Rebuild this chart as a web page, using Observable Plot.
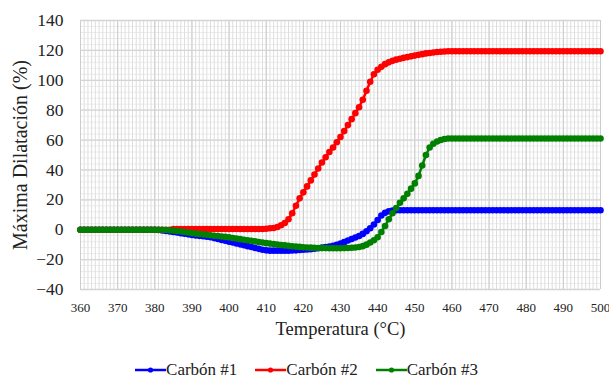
<!DOCTYPE html>
<html><head><meta charset="utf-8">
<script src="https://cdn.jsdelivr.net/npm/d3@7"></script>
<script src="https://cdn.jsdelivr.net/npm/@observablehq/plot@0.6"></script>
<style>
body{margin:0;background:#fff;overflow:hidden;}
body, body *, svg text{font-family:"Liberation Serif", "Times New Roman", serif !important;}
#legend{display:flex;justify-content:center;gap:18px;font-size:17px;color:#222;height:40px;align-items:center;margin-left:4px}
.item{display:flex;align-items:center;gap:0px}
</style></head><body>
<div id="chart"></div>
<div id="legend"></div>
<script>
const temps = [360,361,362,363,364,365,366,367,368,369,370,371,372,373,374,375,376,377,378,379,
380,381,382,383,384,385,386,387,388,389,390,391,392,393,394,395,396,397,398,399,
400,401,402,403,404,405,406,407,408,409,410,411,412,413,414,415,416,417,418,419,
420,421,422,423,424,425,426,427,428,429,430,431,432,433,434,435,436,437,438,439,
440,441,442,443,444,445,446,447,448,449,450,451,452,453,454,455,456,457,458,459,
460,461,462,463,464,465,466,467,468,469,470,471,472,473,474,475,476,477,478,479,
480,481,482,483,484,485,486,487,488,489,490,491,492,493,494,495,496,497,498,499,500];

const carbon1 = [0,0,0,0,0,0,0,0,0,0,0,0,0,0,0,0,0,0,0,0,
0,-0.2,-0.5,-0.8,-1.2,-1.5,-1.9,-2.3,-2.7,-3.1,-3.5,-3.8,-4.1,-4.4,-4.7,-5.0,-5.6,-6.2,-6.8,-7.4,
-8.0,-8.6,-9.2,-9.8,-10.4,-11.0,-11.6,-12.2,-12.8,-13.4,-13.8,-14,-14,-14,-14,-14,-14,-13.9,-13.8,-13.6,
-13.4,-13.2,-13,-12.7,-12.4,-12,-11.6,-11.2,-10.7,-10.1,-9.3,-8.3,-7.2,-6.2,-5.2,-4.2,-2.8,-1,1,3.5,
6.5,9.5,11.3,12.4,12.9,13,13,13,13,13,13,13,13,13,13,13,13,13,13,13,
13,13,13,13,13,13,13,13,13,13,13,13,13,13,13,13,13,13,13,13,
13,13,13,13,13,13,13,13,13,13,13,13,13,13,13,13,13,13,13,13,13];

const carbon2 = [0,0,0,0,0,0,0,0,0,0,0,0,0,0,0,0,0,0,0,0,
0,0,0,0,0,0.5,0.5,0.5,0.5,0.5,0.5,0.5,0.5,0.5,0.5,0.5,0.5,0.5,0.5,0.5,
0.5,0.5,0.5,0.5,0.5,0.5,0.5,0.5,0.5,0.5,0.7,1,1.2,1.8,3,4.5,7,11,16,21,
25,29,33,37,41,45,48.5,52,55,58.5,62,66,70,74,78,82,87,93,99,104,
107,109,110.8,112,113,113.8,114.4,115,115.5,116,116.5,117,117.5,118,118.3,118.6,118.9,119.1,119.3,119.4,
119.4,119.4,119.4,119.4,119.4,119.4,119.4,119.4,119.4,119.4,119.4,119.4,119.4,119.4,119.4,119.4,119.4,119.4,119.4,119.4,
119.4,119.4,119.4,119.4,119.4,119.4,119.4,119.4,119.4,119.4,119.4,119.4,119.4,119.4,119.4,119.4,119.4,119.4,119.4,119.4,119.4];

const carbon3 = [0,0,0,0,0,0,0,0,0,0,0,0,0,0,0,0,0,0,0,0,
0,0,0,-0.2,-0.4,-0.6,-0.9,-1.2,-1.5,-1.9,-2.3,-2.6,-2.9,-3.1,-3.4,-3.7,-4,-4.2,-4.5,-4.8,
-5.1,-5.5,-5.9,-6.3,-6.7,-7,-7.4,-7.8,-8.2,-8.6,-9,-9.3,-9.6,-9.9,-10.2,-10.5,-10.8,-11.1,-11.3,-11.5,
-11.7,-11.9,-12,-12.1,-12.2,-12.3,-12.3,-12.4,-12.4,-12.4,-12.4,-12.3,-12.2,-12.1,-11.9,-11.6,-11,-10,-8.6,-7,
-5,-1.5,2.5,7,11,14.5,18,21,24,27.5,31,36,43,50,55,57.5,59,60,60.7,61,
61,61,61,61,61,61,61,61,61,61,61,61,61,61,61,61,61,61,61,61,
61,61,61,61,61,61,61,61,61,61,61,61,61,61,61,61,61,61,61,61,61];

const seriesNames = ["Carbón #1","Carbón #2","Carbón #3"];
const seriesColors = ["#0000ff","#ff0000","#008000"];
const xTicks = [360,370,380,390,400,410,420,430,440,450,460,470,480,490,500];
const yTicks = [-40,-20,0,20,40,60,80,100,120,140];

const rows = [];
[carbon1, carbon2, carbon3].forEach((vals, s) => {
  vals.forEach((v, i) => rows.push({t: temps[i], v, s: seriesNames[s]}));
});

const xMinor = d3.range(360, 501, 1);
const yMinor = d3.range(-40, 141, 4);
const serif = '"Liberation Serif","Times New Roman",serif';

const chart = Plot.plot({
  width: 609, height: 350,
  marginTop: 20, marginLeft: 80, marginRight: 9, marginBottom: 61,
  style: {fontFamily: serif, color: "#222", background: "#fff"},
  x: {domain: [360, 500]},
  y: {domain: [-40, 140]},
  color: {domain: seriesNames, range: seriesColors},
  marks: [
    Plot.ruleY(yMinor, {stroke: "#ececec", strokeWidth: 1}),
    Plot.ruleX(xMinor, {stroke: "#dedede", strokeWidth: 1}),
    Plot.ruleX(xTicks, {stroke: "#cccccc", strokeWidth: 1}),
    Plot.ruleY(yTicks, {stroke: "#d4d4d4", strokeWidth: 1.3}),
    Plot.axisX({ticks: xTicks, tickSize: 0, tickPadding: 13, fontSize: 13, fontFamily: serif,
      label: "Temperatura (°C)", labelAnchor: "center", labelArrow: "none", labelOffset: 45}),
    Plot.axisY({ticks: yTicks, tickSize: 0, tickPadding: 17, fontSize: 17.5, fontFamily: serif,
      label: "Máxima Dilatación (%)", labelAnchor: "center", labelArrow: "none", labelOffset: 68}),
    Plot.line(rows, {x: "t", y: "v", z: "s", stroke: "s", strokeWidth: 2.5}),
    Plot.dot(rows, {x: "t", y: "v", fill: "s", r: 3.3})
  ]
});
chart.querySelectorAll("g[aria-label='x-axis label'] text").forEach(t => t.setAttribute("font-size", "18.5"));
chart.querySelectorAll("g[aria-label='y-axis label'] text").forEach(t => t.setAttribute("font-size", "20"));
document.getElementById("chart").appendChild(chart);

const leg = document.getElementById("legend");
seriesNames.forEach((n, i) => {
  const it = document.createElement("div");
  it.className = "item";
  it.innerHTML = `<svg width="31" height="10"><line x1="0" y1="5" x2="31" y2="5" stroke="${seriesColors[i]}" stroke-width="2.5"/><circle cx="15.5" cy="5" r="2.6" fill="${seriesColors[i]}"/></svg><span>${n}</span>`;
  leg.appendChild(it);
});
</script>
</body></html>
